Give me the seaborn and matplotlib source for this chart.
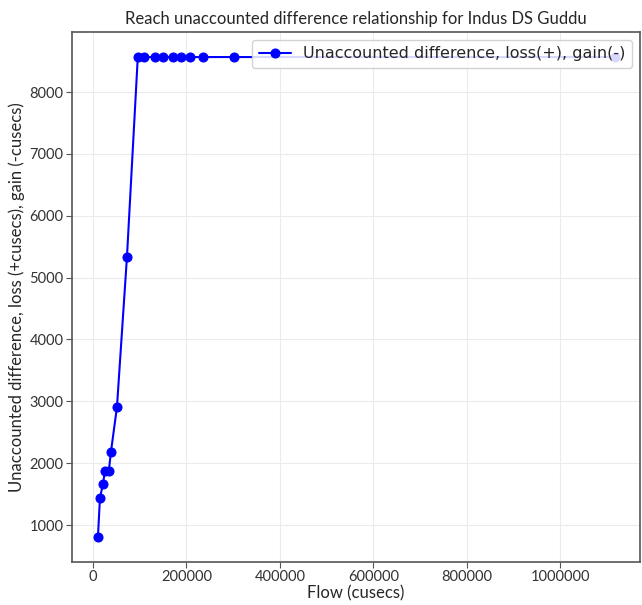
import seaborn as sns
import pandas as pd
import matplotlib.pyplot as plt

###################
# Data
flow = [10700, 15000, 21400, 25700, 34000, 38500, 51400, 72800,
        96000, 109000, 133000, 150000, 171000, 188000, 208000, 235000, 302000, 1118000]
unaccounted = [806, 1436, 1663, 1873, 1873, 2180, 2907, 5332,
               8566, 8566, 8566, 8566, 8566, 8566, 8566, 8566, 8566, 8566]
label = "Unaccounted difference, loss(+), gain(-)"

df = pd.DataFrame({"Flow": flow, "Unaccounted": unaccounted})

###################
# Setup
sns.set_style("whitegrid", {"grid.color": "#ebebeb", "axes.edgecolor": "#555555"})
plt.rcParams["font.family"] = ["Lato", "DejaVu Sans"]

fig = plt.figure(figsize=(6.42, 6.05), dpi=100)
ax = fig.add_axes([0.112, 0.071, 0.885, 0.876])

sns.lineplot(df, ax=ax, x="Flow", y="Unaccounted", color="blue", marker="o",
             markersize=6.5, markeredgecolor="blue", linewidth=1.5, label=label)

ax.set_xlim([-45000, 1171000])
ax.set_ylim([402, 8970])
ax.set_xticks([0, 200000, 400000, 600000, 800000, 1000000])
ax.set_xticklabels(["0", "200000", "400000", "600000", "800000", "1000000"])
ax.set_yticks([1000, 2000, 3000, 4000, 5000, 6000, 7000, 8000])
ax.tick_params(labelsize=10.5, colors="#333333", length=4, pad=2, left=True, bottom=True)
ax.tick_params(axis="both", color="#555555")
for s in ax.spines.values():
    s.set_linewidth(1.2)

ax.set_xlabel("Flow (cusecs)", fontsize=12, labelpad=1)
ax.set_ylabel("Unaccounted difference, loss (+cusecs), gain (-cusecs)", fontsize=12, labelpad=3)
ax.set_title("Reach unaccounted difference relationship for Indus DS Guddu", fontsize=12)

leg = ax.legend(loc="upper right", frameon=True, framealpha=0.85,
                prop={"family": "DejaVu Sans", "size": 11.5})

###################
# Export
fig.savefig("out.png", dpi=100)
